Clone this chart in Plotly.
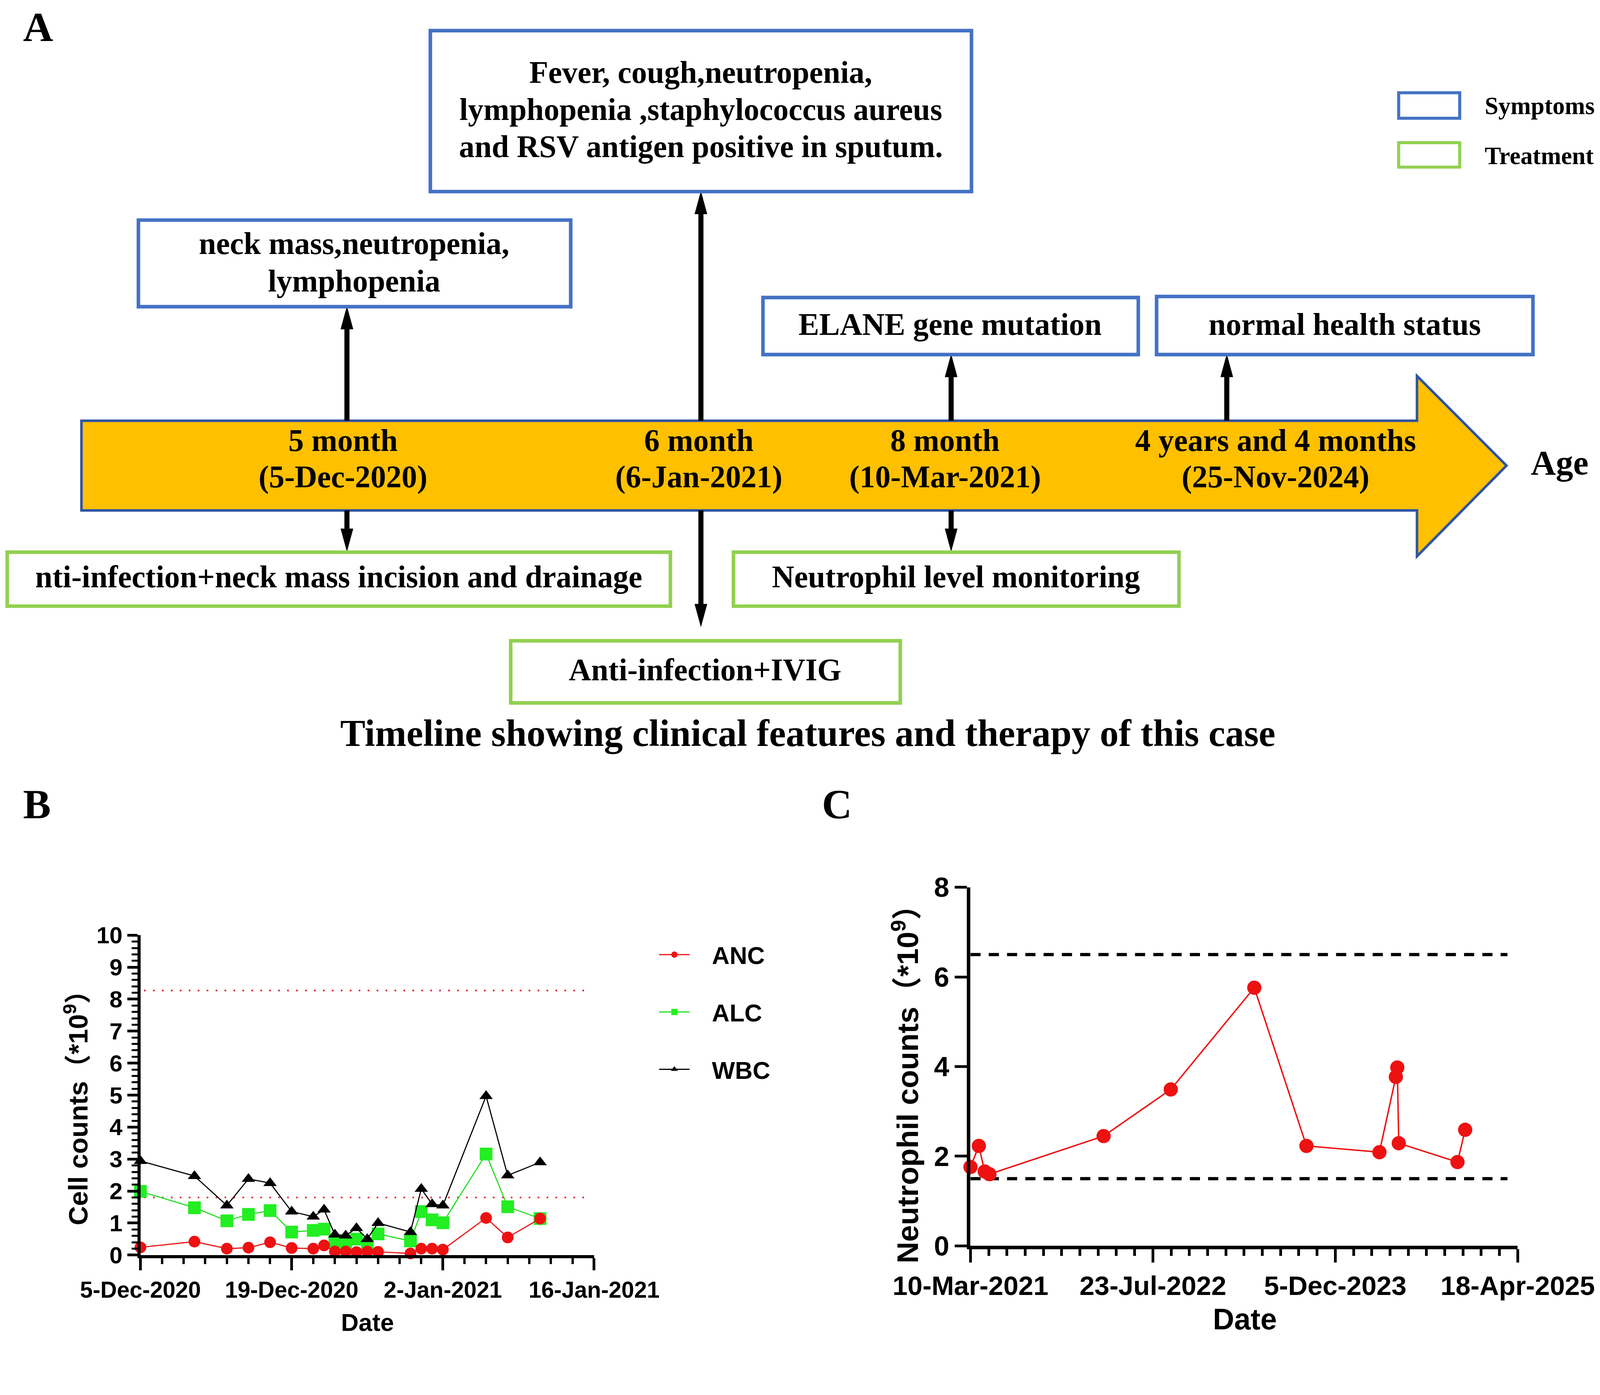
import plotly.graph_objects as go

# The reference was laid out on a 1568 x 1310 grid. The page is photographed
# slightly magnified, so the figure is sized to what the camera actually sees.
K = 1.0455
W, H = round(4269 / K), round(3570 / K)
GRID_W, GRID_H = 1568, 1310
S = W / GRID_W

SERIF = "Liberation Serif, Times New Roman, serif"
SANS = "Liberation Sans, Arial, Noto Sans CJK SC, sans-serif"

BLUE_BOX = '#4472C4'
GREEN_BOX = '#92D050'
ARROW_FILL = '#FFC000'
ARROW_EDGE = '#2F55A3'

# =============================================================================
# DATA
# =============================================================================

# Panel B: blood counts during the first admission (x10^9/L)
b_dates = ['2020-12-05', '2020-12-10', '2020-12-13', '2020-12-15', '2020-12-17',
           '2020-12-19', '2020-12-21', '2020-12-22', '2020-12-23', '2020-12-24',
           '2020-12-25', '2020-12-26', '2020-12-27', '2020-12-30', '2020-12-31',
           '2021-01-01', '2021-01-02', '2021-01-06', '2021-01-08', '2021-01-11']
anc = [0.24, 0.42, 0.20, 0.23, 0.40, 0.22, 0.20, 0.30, 0.11, 0.11,
       0.09, 0.11, 0.10, 0.05, 0.20, 0.20, 0.17, 1.16, 0.55, 1.14]
alc = [1.99, 1.48, 1.07, 1.27, 1.39, 0.72, 0.77, 0.81, 0.42, 0.36,
       0.50, 0.36, 0.66, 0.44, 1.36, 1.10, 1.01, 3.16, 1.51, 1.14]
wbc = [2.94, 2.47, 1.55, 2.38, 2.25, 1.36, 1.20, 1.42, 0.64, 0.61,
       0.84, 0.50, 1.00, 0.72, 2.07, 1.59, 1.55, 4.97, 2.49, 2.90]
b_ref_dates = ['2020-12-05 08:00', '2021-01-15 10:00']
b_ref_upper = [8.27, 8.27]
b_ref_lower = [1.8, 1.8]
b_tickvals = ['2020-12-05', '2020-12-19', '2021-01-02', '2021-01-16']
b_ticktext = ['5-Dec-2020', '19-Dec-2020', '2-Jan-2021', '16-Jan-2021']

# Panel C: follow-up neutrophil counts (x10^9/L)
c_dates = ['2021-03-10', '2021-04-02', '2021-04-18', '2021-05-01', '2022-03-10',
           '2022-09-10', '2023-04-27', '2023-09-17', '2024-04-04', '2024-05-19',
           '2024-05-23', '2024-05-27', '2024-11-04', '2024-11-25']
c_anc = [1.76, 2.23, 1.66, 1.60, 2.45, 3.49, 5.76, 2.23, 2.09, 3.77,
         3.98, 2.29, 1.87, 2.59]
c_ref_dates = ['2021-03-10', '2025-03-21']
c_ref_upper = [6.5, 6.5]
c_ref_lower = [1.5, 1.5]
c_tickvals = ['2021-03-10', '2022-07-23', '2023-12-05', '2025-04-18']
c_ticktext = ['10-Mar-2021', '23-Jul-2022', '5-Dec-2023', '18-Apr-2025']

# Panel A: timeline
milestones = [['5 month', '(5-Dec-2020)'], ['6 month', '(6-Jan-2021)'],
              ['8 month', '(10-Mar-2021)'], ['4 years and 4 months', '(25-Nov-2024)']]
symptoms = [['neck mass,neutropenia,', 'lymphopenia'],
            ['Fever, cough,neutropenia,', 'lymphopenia ,staphylococcus aureus',
             'and RSV antigen positive in sputum.'],
            ['ELANE gene mutation'], ['normal health status']]
treatments = ['nti-infection+neck mass incision and drainage',
              'Anti-infection+IVIG', 'Neutrophil level monitoring']


def px(x):
    return x / GRID_W


def py(y):
    return 1 - y / GRID_H


def f(size):
    return size * S


# =============================================================================
# FIGURE
# =============================================================================

fig = go.Figure()

# ---- Panel B traces
b_dots = dict(color='#E8202A', width=f(1.6), dash='%.1fpx,%.1fpx' % (f(1.6), f(7.2)))
fig.add_trace(go.Scatter(x=b_ref_dates, y=b_ref_upper, mode='lines', showlegend=False,
                         line=b_dots, hoverinfo='skip'))
fig.add_trace(go.Scatter(x=b_ref_dates, y=b_ref_lower, mode='lines', showlegend=False,
                         line=b_dots, hoverinfo='skip'))

LEG_PAD = '\u00a0\u00a0\u00a0'
fig.add_trace(go.Scatter(
    x=b_dates, y=alc, mode='lines+markers', name=LEG_PAD + 'ALC', legendgroup='alc',
    legendrank=2, line=dict(color='#22DD22', width=f(1.1)),
    marker=dict(symbol='square', size=f(12.5), color='#22EE22'), cliponaxis=False))
fig.add_trace(go.Scatter(
    x=b_dates, y=wbc, mode='lines+markers', name=LEG_PAD + 'WBC', legendgroup='wbc',
    legendrank=3, line=dict(color='black', width=f(1.1)),
    marker=dict(symbol='triangle-up', size=f(11.5), color='black'), cliponaxis=False))
fig.add_trace(go.Scatter(
    x=b_dates, y=anc, mode='lines+markers', name=LEG_PAD + 'ANC', legendgroup='anc',
    legendrank=1, line=dict(color='#EE1111', width=f(1.1)),
    marker=dict(symbol='circle', size=f(11.5), color='#EE1111'), cliponaxis=False))

# ---- Panel C traces
c_dash = dict(color='black', width=f(3.2), dash='%.1fpx,%.1fpx' % (f(10), f(8)))
fig.add_trace(go.Scatter(x=c_ref_dates, y=c_ref_upper, mode='lines', showlegend=False,
                         xaxis='x2', yaxis='y2', line=c_dash, hoverinfo='skip'))
fig.add_trace(go.Scatter(x=c_ref_dates, y=c_ref_lower, mode='lines', showlegend=False,
                         xaxis='x2', yaxis='y2', line=c_dash, hoverinfo='skip'))
fig.add_trace(go.Scatter(
    x=c_dates, y=c_anc, mode='lines+markers', showlegend=False, xaxis='x2', yaxis='y2',
    line=dict(color='#EE1111', width=f(1.4)),
    marker=dict(symbol='circle', size=f(14), color='#EE1111'), cliponaxis=False))

# ---- Panel A drawing
shapes = []
annotations = []


def box(x0, y0, x1, y1, color, width=3.5):
    shapes.append(dict(type='rect', xref='paper', yref='paper',
                       x0=px(x0), x1=px(x1), y0=py(y1), y1=py(y0),
                       line=dict(color=color, width=f(width)), fillcolor='white'))


def text(x, y, s, size, family=SERIF, xanchor='center', **kw):
    if family == SERIF:
        y -= 0.09 * size   # serif glyphs sit a little low in plotly's text box
    annotations.append(dict(xref='paper', yref='paper', x=px(x), y=py(y), text=s,
                            showarrow=False, xanchor=xanchor, yanchor='middle',
                            font=dict(family=family, size=f(size), color='black', weight='bold'),
                            **kw))


def lines_of_text(x, y_center, lines, size, gap):
    # stack lines with the tighter leading of the original figure
    y0 = y_center - gap * (len(lines) - 1) / 2
    for i, s in enumerate(lines):
        text(x, y0 + i * gap, s, size)


def arrow(x, y_from, y_to, head=22, half=6):
    sign = 1 if y_to < y_from else -1
    base = y_to + sign * head
    shapes.append(dict(type='line', xref='paper', yref='paper',
                       x0=px(x), x1=px(x), y0=py(y_from), y1=py(base),
                       line=dict(color='black', width=f(5))))
    shapes.append(dict(type='path', xref='paper', yref='paper',
                       path='M %f,%f L %f,%f L %f,%f Z' % (px(x - half), py(base), px(x + half), py(base),
                                                         px(x), py(y_to)),
                       fillcolor='black', line=dict(color='black', width=1)))


# timeline arrow
arrow_path = [(77, 410), (1390, 410), (1390, 366), (1478, 454), (1390, 543), (1390, 498), (77, 498)]
shapes.append(dict(type='path', xref='paper', yref='paper',
                   path='M ' + ' L '.join('%f,%f' % (px(a), py(b)) for a, b in arrow_path) + ' Z',
                   fillcolor=ARROW_FILL, line=dict(color=ARROW_EDGE, width=f(2.5)), layer='below'))

# connectors
arrow(338, 410, 298)
arrow(686, 410, 185)
arrow(932, 410, 345)
arrow(1203, 410, 345)
arrow(338, 498, 538)
arrow(686, 498, 612)
arrow(932, 498, 538)

# symptom boxes
box(133, 213, 558, 298, BLUE_BOX)
box(420, 27, 952, 185, BLUE_BOX)
box(747, 289, 1116, 345, BLUE_BOX)
box(1134, 288, 1504, 345, BLUE_BOX)
lines_of_text(345, 257, symptoms[0], 30.5, 37)
lines_of_text(686, 107, symptoms[1], 30.5, 36.5)
lines_of_text(931, 318, symptoms[2], 30.5, 0)
lines_of_text(1319, 318, symptoms[3], 30.5, 0)

# treatment boxes
box(4, 539, 656, 592, GREEN_BOX)
box(499, 626, 882, 687, GREEN_BOX)
box(718, 539, 1156, 592, GREEN_BOX)
text(330, 566, treatments[0], 30.5)
text(690, 657, treatments[1], 30.5)
text(937, 566, treatments[2], 30.5)

# milestone labels
for xm, lab in zip([334, 684, 926, 1251], milestones):
    lines_of_text(xm, 450, lab, 30.5, 36)
text(1501, 454, 'Age', 34, xanchor='left')

# legend of panel A
box(1372, 88, 1432, 113, BLUE_BOX, width=3)
box(1372, 137, 1432, 161, GREEN_BOX, width=3)
text(1456, 103, 'Symptoms', 24, xanchor='left')
text(1456, 152, 'Treatment', 24, xanchor='left')

text(791, 720, 'Timeline showing clinical features and therapy of this case', 37)

# panel letters
text(19, 27, 'A', 41, xanchor='left')
text(19, 790, 'B', 41, xanchor='left')
text(804, 790, 'C', 41, xanchor='left')

# axis titles for B and C
text(72, 1078, 'Cell counts（*10<sup>9</sup>）', 26.3, family=SANS, textangle=-90)
text(358, 1295, 'Date', 24, family=SANS)
text(887, 1054, 'Neutrophil counts（*10<sup>9</sup>）', 29.5, family=SANS, textangle=-90)
text(1221, 1292, 'Date', 29, family=SANS)

DAY = 86400000

axis_common = dict(showline=True, linecolor='black', showgrid=False, zeroline=False,
                   ticks='outside', tickcolor='black', fixedrange=True, automargin=False)

fig.update_layout(
    width=W, height=H,
    margin=dict(l=0, r=0, t=0, b=0, autoexpand=False),
    paper_bgcolor='white', plot_bgcolor='white',
    shapes=shapes, annotations=annotations,
    showlegend=True,
    legend=dict(x=px(643), y=py(916), xanchor='left', yanchor='top',
                font=dict(family=SANS, size=f(24), color='black', weight='bold'),
                itemwidth=f(30), tracegroupgap=f(24), bgcolor='rgba(0,0,0,0)'),
    xaxis=dict(domain=[px(135), px(581)], anchor='y', type='date',
               range=['2020-12-05', '2021-01-16'],
               tickmode='array', tickvals=b_tickvals, ticktext=b_ticktext,
               linewidth=f(3), tickwidth=f(2.5), ticklen=f(12),
               tickfont=dict(family=SANS, size=f(22.5), color='black', weight='bold'),
               minor=dict(dtick=2 * DAY, tick0='2020-12-05', ticks='outside',
                          ticklen=f(6), tickwidth=f(2.3), tickcolor='black'),
               **axis_common),
    yaxis=dict(domain=[py(1229), py(915)], anchor='x', range=[0, 10], dtick=1,
               linewidth=f(3), tickwidth=f(2.5), ticklen=f(10),
               tickfont=dict(family=SANS, size=f(23), color='black', weight='bold'),
               minor=dict(dtick=0.2, ticks='outside', ticklen=f(5.5), tickwidth=f(2),
                          tickcolor='black'),
               **axis_common),
    xaxis2=dict(domain=[px(951), px(1489)], anchor='y2', type='date',
                range=['2021-03-10', '2025-04-18'],
                tickmode='array', tickvals=c_tickvals, ticktext=c_ticktext,
                linewidth=f(3.5), tickwidth=f(2.8), ticklen=f(13),
                tickfont=dict(family=SANS, size=f(26.5), color='black', weight='bold'),
                minor=dict(dtick=50 * DAY, tick0='2021-03-10', ticks='outside',
                           ticklen=f(6.5), tickwidth=f(2.5), tickcolor='black'),
                **axis_common),
    yaxis2=dict(domain=[py(1220), py(868)], anchor='x2', range=[0, 8], dtick=2,
                linewidth=f(3.5), tickwidth=f(2.8), ticklen=f(12),
                tickfont=dict(family=SANS, size=f(27), color='black', weight='bold'),
                **axis_common),
)

fig.write_html("out.html")
